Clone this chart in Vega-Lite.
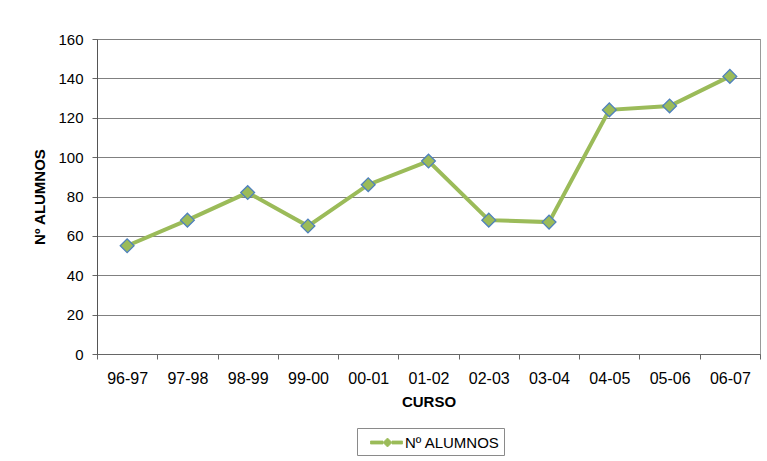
{
  "$schema": "https://vega.github.io/schema/vega-lite/v6.json",
  "width": 663,
  "height": 315,
  "autosize": "none",
  "padding": {"left": 97, "top": 39, "right": 7, "bottom": 107},
  "background": "white",
  "config": {
    "font": "Liberation Sans",
    "view": {"stroke": "#9a9a9a", "strokeWidth": 1}
  },
  "data": {
    "values": [
      {"curso": "96-97", "alumnos": 55, "serie": "Nº ALUMNOS"},
      {"curso": "97-98", "alumnos": 68, "serie": "Nº ALUMNOS"},
      {"curso": "98-99", "alumnos": 82, "serie": "Nº ALUMNOS"},
      {"curso": "99-00", "alumnos": 65, "serie": "Nº ALUMNOS"},
      {"curso": "00-01", "alumnos": 86, "serie": "Nº ALUMNOS"},
      {"curso": "01-02", "alumnos": 98, "serie": "Nº ALUMNOS"},
      {"curso": "02-03", "alumnos": 68, "serie": "Nº ALUMNOS"},
      {"curso": "03-04", "alumnos": 67, "serie": "Nº ALUMNOS"},
      {"curso": "04-05", "alumnos": 124, "serie": "Nº ALUMNOS"},
      {"curso": "05-06", "alumnos": 126, "serie": "Nº ALUMNOS"},
      {"curso": "06-07", "alumnos": 141, "serie": "Nº ALUMNOS"}
    ]
  },
  "encoding": {
    "x": {
      "field": "curso",
      "type": "ordinal",
      "sort": null,
      "bandPosition": 0.5,
      "scale": {"type": "band", "paddingInner": 0, "paddingOuter": 0},
      "axis": {
        "title": "CURSO",
        "titleFontSize": 15,
        "titleFontWeight": "bold",
        "titleColor": "#000000",
        "titlePadding": 8,
        "labelAngle": 0,
        "labelFontSize": 16,
        "labelColor": "#000000",
        "labelPadding": 11,
        "tickBand": "extent",
        "tickSize": 5,
        "tickColor": "#666666",
        "domainColor": "#666666",
        "grid": false
      }
    },
    "y": {
      "field": "alumnos",
      "type": "quantitative",
      "scale": {"domain": [0, 160]},
      "axis": {
        "title": "Nº ALUMNOS",
        "titleFontSize": 15,
        "titleFontWeight": "bold",
        "titleColor": "#000000",
        "titlePadding": 10,
        "values": [0, 20, 40, 60, 80, 100, 120, 140, 160],
        "labelFontSize": 15,
        "labelColor": "#000000",
        "labelPadding": 9,
        "tickSize": 5,
        "tickColor": "#666666",
        "domainColor": "#555555",
        "gridColor": "#808080",
        "gridOpacity": 1
      }
    },
    "color": {
      "field": "serie",
      "type": "nominal",
      "scale": {"range": ["#9BBB59"]},
      "legend": {
        "title": null,
        "orient": "none",
        "legendX": 260,
        "legendY": 389,
        "padding": 4,
        "strokeColor": "#8a8a8a",
        "fillColor": "white",
        "labelFontSize": 15,
        "labelColor": "#000000",
        "labelOffset": 23,
        "symbolType": "M-0.1,-0.15 L1.15,-0.15 L1.15,0.15 L-0.1,0.15 Z M2.05,-0.15 L3.1,-0.15 L3.1,0.15 L2.05,0.15 Z M1.6,-0.45 L2.05,0 L1.6,0.45 L1.15,0 Z",
        "symbolSize": 400,
        "symbolStrokeWidth": 0.8,
        "encode": {
          "symbols": {
            "update": {
              "fill": {"value": "#9BBB59"},
              "stroke": {"value": "#4F81BD"},
              "strokeWidth": {"value": 0.8},
              "opacity": {"value": 1}
            }
          }
        }
      }
    }
  },
  "layer": [
    {"mark": {"type": "line", "strokeWidth": 4}},
    {
      "mark": {
        "type": "point",
        "shape": "diamond",
        "filled": true,
        "size": 190,
        "stroke": "#4F81BD",
        "strokeWidth": 1.3,
        "opacity": 1
      }
    }
  ]
}
